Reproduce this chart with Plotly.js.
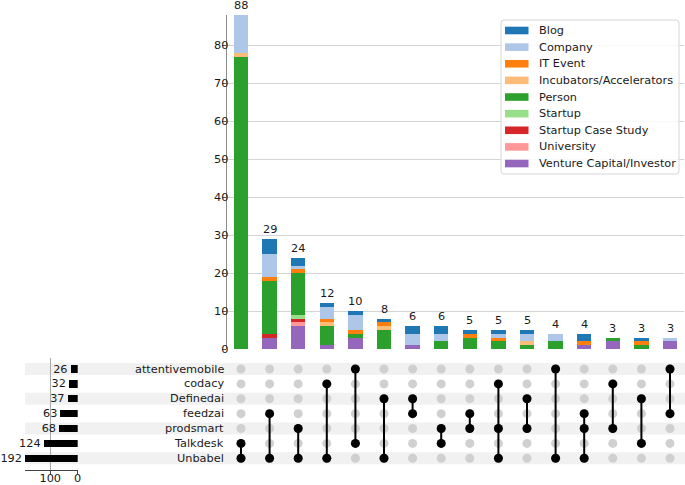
<!DOCTYPE html>
<html><head><meta charset="utf-8">
<script src="https://cdn.plot.ly/plotly-3.0.1.min.js"></script>
<style>html,body{margin:0;padding:0;background:#fff}#chart{width:685px;height:485px}</style>
</head><body><div id="chart"></div>
<script>
// ---- data ----
const setNames = ["attentivemobile","codacy","Definedai","feedzai","prodsmart","Talkdesk","Unbabel"];
const setTotals = [26, 32, 37, 63, 68, 124, 192];
const intersections = [
  ["Talkdesk","Unbabel"], ["feedzai","Unbabel"], ["prodsmart","Unbabel"], ["codacy","Unbabel"],
  ["attentivemobile","Talkdesk"], ["Definedai","Unbabel"], ["Definedai","feedzai"], ["prodsmart","Talkdesk"],
  ["feedzai","prodsmart"], ["codacy","prodsmart","Unbabel"], ["Definedai","prodsmart"], ["attentivemobile","Unbabel"],
  ["feedzai","prodsmart","Unbabel"], ["codacy","prodsmart"], ["Definedai","Talkdesk"], ["attentivemobile","feedzai"]
];
const categories = ["Blog","Company","IT Event","Incubators/Accelerators","Person","Startup","Startup Case Study","University","Venture Capital/Investor"];
const blog       = [0, 4, 2, 1, 1, 1, 2, 2, 1, 1, 1, 0, 2, 0, 1, 0];
const company    = [10, 6, 1, 3, 4, 0, 3, 2, 0, 1, 2, 2, 0, 0, 0, 1];
const itEvent    = [0, 1, 1, 1, 1, 1, 0, 0, 1, 1, 0, 0, 1, 0, 1, 0];
const incubators = [1, 0, 0, 1, 0, 1, 0, 0, 0, 0, 1, 0, 0, 0, 0, 0];
const person     = [77, 14, 11, 5, 1, 5, 0, 2, 3, 2, 1, 2, 0, 1, 1, 0];
const startup    = [0, 0, 1, 0, 0, 0, 0, 0, 0, 0, 0, 0, 0, 0, 0, 0];
const caseStudy  = [0, 1, 1, 0, 0, 0, 0, 0, 0, 0, 0, 0, 0, 0, 0, 0];
const university = [0, 0, 1, 0, 0, 0, 0, 0, 0, 0, 0, 0, 0, 0, 0, 0];
const venture    = [0, 3, 6, 1, 3, 0, 1, 0, 0, 0, 0, 0, 1, 2, 0, 2];
const seriesValues = [blog, company, itEvent, incubators, person, startup, caseStudy, university, venture];
const seriesColors = ["#1f77b4","#aec7e8","#ff7f0e","#ffbb78","#2ca02c","#98df8a","#d62728","#ff9896","#9467bd"];

// ---- build ----
const colIdx = intersections.map((_, i) => i);
const FONT = "DejaVu Sans, Liberation Sans, sans-serif";
const FS = 11.3;
const TXT = "#1a1a1a";
const traces = [];

// stacked bars: bottom (last category) first
for (let k = categories.length - 1; k >= 0; k--) {
  traces.push({
    type: "bar", name: categories[k], x: colIdx, y: seriesValues[k],
    xaxis: "x", yaxis: "y", width: 0.5,
    marker: {color: seriesColors[k], line: {width: 0}},
    showlegend: false, hoverinfo: "name+y"
  });
}
const colTotals = colIdx.map(i => seriesValues.reduce((s, arr) => s + arr[i], 0));

// matrix: gray dots
const gx = [], gy = [];
colIdx.forEach(c => setNames.forEach((s, r) => { gx.push(c); gy.push(r); }));
traces.push({
  type: "scatter", mode: "markers", x: gx, y: gy, xaxis: "x", yaxis: "y2",
  marker: {size: 9, color: "#d0d0d0"}, showlegend: false, hoverinfo: "skip", cliponaxis: false
});
// connecting lines and member dots
const lx = [], ly = [], mx = [], my = [];
intersections.forEach((members, c) => {
  const rows = members.map(m => setNames.indexOf(m));
  lx.push(c, c, null); ly.push(Math.min(...rows), Math.max(...rows), null);
  rows.forEach(r => { mx.push(c); my.push(r); });
});
traces.push({
  type: "scatter", mode: "lines", x: lx, y: ly, xaxis: "x", yaxis: "y2",
  line: {color: "#000", width: 2}, showlegend: false, hoverinfo: "skip", cliponaxis: false
});
traces.push({
  type: "scatter", mode: "markers", x: mx, y: my, xaxis: "x", yaxis: "y2",
  marker: {size: 9, color: "#000"}, showlegend: false, hoverinfo: "skip", cliponaxis: false
});

// totals bars
traces.push({
  type: "bar", orientation: "h", x: setTotals, y: setNames.map((_, i) => i),
  xaxis: "x2", yaxis: "y3", width: 0.5, marker: {color: "#000"},
  text: setTotals.map(String), textposition: "outside", constraintext: "none",
  textfont: {family: FONT, size: FS, color: TXT}, cliponaxis: false,
  showlegend: false, hoverinfo: "skip"
});

// ---- layout ----
const W = 685, H = 485;
const px = v => v / W, py = v => 1 - v / H;
const rowTop = 369, rowStep = 14.88;
const shapes = [];
const annotations = [];
// row shading
setNames.forEach((s, i) => {
  if (i % 2 === 0) shapes.push({
    type: "rect", xref: "paper", yref: "y2", x0: px(25), x1: 1, y0: i - 0.4, y1: i + 0.4,
    fillcolor: "#f1f1f1", line: {width: 0}, layer: "below"
  });
});
// row labels
setNames.forEach((s, i) => annotations.push({
  xref: "paper", yref: "y2", x: px(226), y: i, xanchor: "right", yanchor: "middle",
  text: s, showarrow: false, font: {family: FONT, size: FS, color: TXT}
}));
// intersection count labels
colTotals.forEach((t, c) => annotations.push({
  xref: "x", yref: "y", x: c, y: t, xanchor: "center", yanchor: "bottom", yshift: 1,
  text: String(t), showarrow: false, font: {family: FONT, size: FS, color: TXT}
}));
// legend (drawn in paper space)
const legL = 501, legT = 20, legR = 679, legB = 174, legStep = 16.63, legFirst = 30.5;
shapes.push({
  type: "path", xref: "paper", yref: "paper",
  path: (() => {
    const r = 3, x0 = px(legL), x1 = px(legR), y0 = py(legT), y1 = py(legB);
    const rx = r / W, ry = r / H;
    return `M${x0 + rx},${y0} L${x1 - rx},${y0} Q${x1},${y0} ${x1},${y0 - ry} L${x1},${y1 + ry} Q${x1},${y1} ${x1 - rx},${y1} L${x0 + rx},${y1} Q${x0},${y1} ${x0},${y1 + ry} L${x0},${y0 - ry} Q${x0},${y0} ${x0 + rx},${y0} Z`;
  })(),
  fillcolor: "rgba(255,255,255,0.85)", line: {color: "#d6d6d6", width: 1}, layer: "above"
});
categories.forEach((name, k) => {
  const yc = legFirst + k * legStep;
  shapes.push({
    type: "rect", xref: "paper", yref: "paper",
    x0: px(505), x1: px(528.5), y0: py(yc + 3.8), y1: py(yc - 3.8),
    fillcolor: seriesColors[k], line: {width: 0}, layer: "above"
  });
  annotations.push({
    xref: "paper", yref: "paper", x: px(536.5), y: py(yc), xanchor: "left", yanchor: "middle",
    text: name, showarrow: false, font: {family: FONT, size: FS, color: TXT}
  });
});

const layout = {
  width: W, height: H, margin: {l: 0, r: 0, t: 0, b: 0},
  paper_bgcolor: "#fff", plot_bgcolor: "rgba(0,0,0,0)",
  font: {family: FONT, size: FS, color: TXT},
  barmode: "stack", bargap: 0, showlegend: false,
  xaxis: {
    domain: [px(226.7), px(684.3)], range: [-0.5, 15.5], anchor: "y",
    showticklabels: false, showgrid: false, zeroline: false, showline: false, ticks: ""
  },
  yaxis: {
    domain: [py(349), py(15)], range: [0, 88], anchor: "x",
    tickvals: [0, 10, 20, 30, 40, 50, 60, 70, 80], showgrid: true, gridcolor: "#d4d4d4", gridwidth: 1,
    zeroline: false, showline: true, linecolor: "#8c8c8c", linewidth: 1,
    ticks: "outside", ticklen: 4, tickcolor: "#555", ticklabelstandoff: -9,
    tickfont: {family: FONT, size: FS, color: TXT}
  },
  yaxis2: {
    domain: [py(rowTop + 6.5 * rowStep), py(rowTop - 0.5 * rowStep)], range: [6.5, -0.5], anchor: "x",
    showticklabels: false, showgrid: false, zeroline: false, showline: false, ticks: ""
  },
  xaxis2: {
    domain: [px(25), px(77.7)], range: [192, 0], anchor: "y3",
    tickvals: [0, 100], showgrid: true, gridcolor: "#a8a8a8", gridwidth: 1,
    zeroline: false, showline: true, linecolor: "#444", linewidth: 1,
    ticks: "outside", ticklen: 3, tickcolor: "#444", ticklabelstandoff: -6,
    tickfont: {family: FONT, size: FS, color: TXT}
  },
  yaxis3: {
    domain: [py(470), py(358)],
    range: [(470 - rowTop) / rowStep, (358 - rowTop) / rowStep], anchor: "x2",
    showticklabels: false, showgrid: false, zeroline: false, showline: false, ticks: ""
  },
  shapes: shapes,
  annotations: annotations
};

Plotly.newPlot("chart", traces, layout, {displayModeBar: false, staticPlot: true});
</script>
</body></html>
